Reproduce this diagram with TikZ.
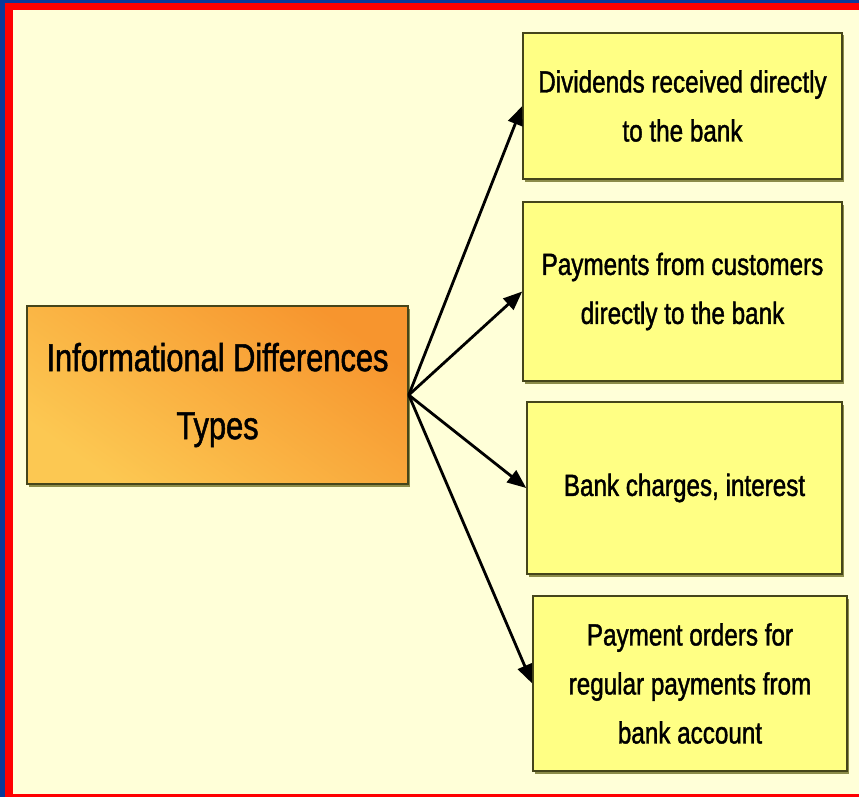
\documentclass[tikz,border=0pt]{standalone}
\usepackage{fontspec}
\setmainfont{Liberation Sans}[FakeStretch=0.79,FakeBold=1.3]
\usetikzlibrary{arrows.meta}
\definecolor{cream}{HTML}{FFFFD8}
\definecolor{boxyellow}{HTML}{FFFF84}
\definecolor{edgec}{HTML}{45451A}
\definecolor{shadowc}{HTML}{8C8C4A}
\definecolor{frameblue}{HTML}{0A3A9A}
\definecolor{framered}{HTML}{FF0000}
\definecolor{orangeA}{HTML}{F7952E}
\definecolor{orangeB}{HTML}{FCC852}
\begin{document}
\begin{tikzpicture}[x=1pt,y=-1pt,
  item/.style={draw=edgec, line width=1.5pt, fill=boxyellow, inner sep=0pt, align=center,
    font=\fontsize{30.7}{49}\selectfont,
    preaction={fill=shadowc, transform canvas={shift={(2pt,-2.5pt)}}}},
  mainbox/.style={draw=edgec, line width=1.5pt, inner sep=0pt, align=center,
    top color=orangeA, bottom color=orangeB, shading angle=-35,
    font=\fontsize{39}{68}\selectfont,
    preaction={fill=shadowc, transform canvas={shift={(2pt,-2.5pt)}}}},
  link/.style={line width=2.8pt, -{Triangle[length=19pt,width=15pt]}}]
\useasboundingbox (0,0) rectangle (859,797);
\fill[cream] (0,0) rectangle (859,797);
\fill[frameblue] (0,0) rectangle (5,797);
\fill[frameblue] (0,0) rectangle (859,3);
\fill[framered] (5,3) rectangle (13,797);
\fill[framered] (5,3) rectangle (859,10);
\fill[framered] (5,794) rectangle (859,797);

\node[mainbox, minimum width=381pt, minimum height=178pt] (src) at (217.5,395) {Informational Differences\\Types};
\node[item, minimum width=319pt, minimum height=146pt] (b1) at (682.5,106) {Dividends received directly\\to the bank};
\node[item, minimum width=319pt, minimum height=179pt] (b2) at (682.5,291.5) {Payments from customers\\directly to the bank};
\node[item, minimum width=315pt, minimum height=172pt] (b3) at (684.5,488) {Bank charges, interest};
\node[item, minimum width=314pt, minimum height=175pt] (b4) at (690,683.5) {Payment orders for\\regular payments from\\bank account};

\draw[link] (src.east) -- (b1.west);
\draw[link] (src.east) -- (b2.west);
\draw[link] (src.east) -- (b3.west);
\draw[link] (src.east) -- (b4.west);
\end{tikzpicture}
\end{document}
